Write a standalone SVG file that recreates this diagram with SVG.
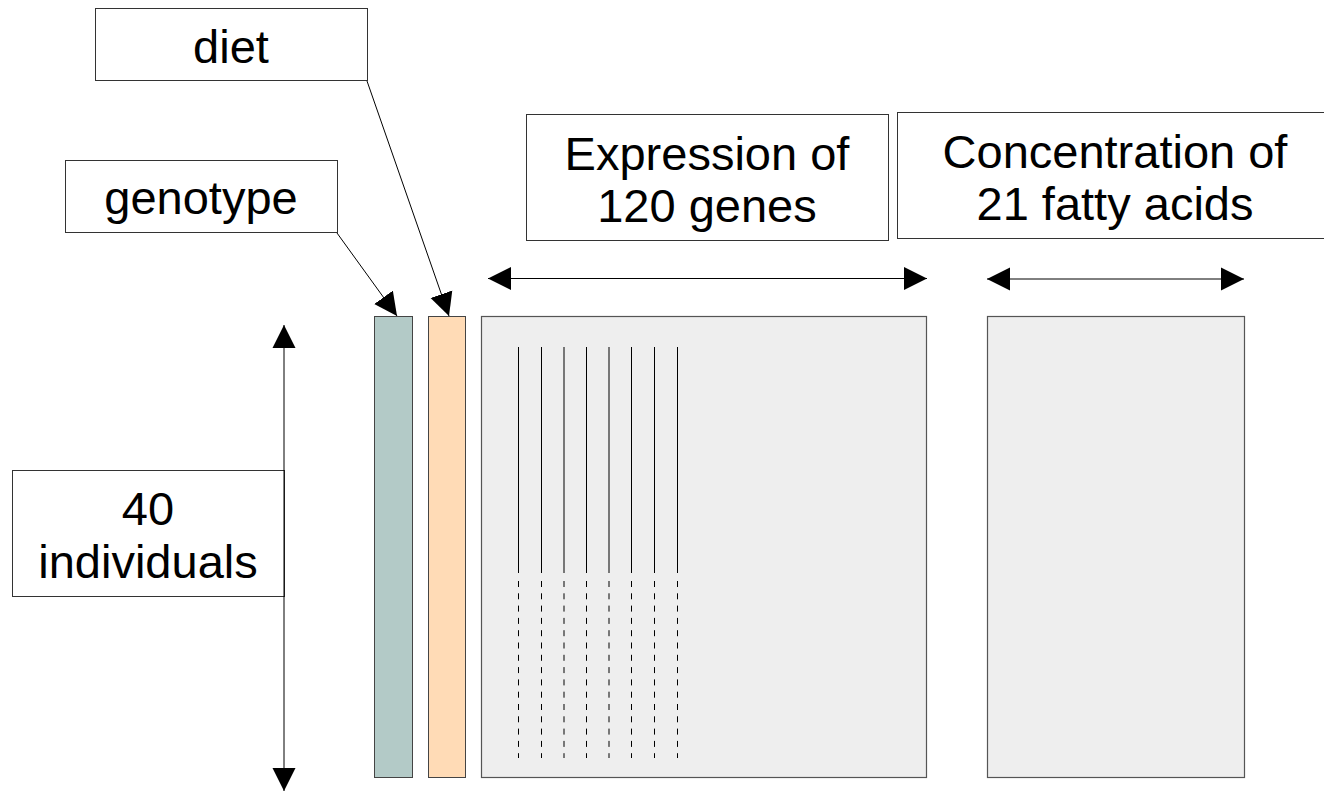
<svg xmlns="http://www.w3.org/2000/svg" width="1324" height="792" viewBox="0 0 1324 792">
<style>
  .lbl { fill: #ffffff; stroke: #333333; stroke-width: 1; }
  .txt { font-family: "Liberation Sans", Arial, sans-serif; font-size: 47px; fill: #000000; text-anchor: middle; }
  .conn { stroke: #000000; stroke-width: 1; fill: none; }
  .bar { stroke: #444444; stroke-width: 1; }
  .mat { fill: #eeeeee; stroke: #555555; stroke-width: 1.2; }
  .gene { stroke: #000000; stroke-width: 1; }
  .dash { stroke: #000000; stroke-width: 1; stroke-dasharray: 6 6.3; }
</style>
<defs>
  <marker id="ah" markerUnits="userSpaceOnUse" markerWidth="24" markerHeight="24" refX="23" refY="11.5" orient="auto-start-reverse" viewBox="0 0 24 23">
    <path d="M0,0 L23,11.5 L0,23 Z" fill="#000000"/>
  </marker>
</defs>
<rect width="1324" height="792" fill="#ffffff"/>

<g id="diet-label">
  <rect class="lbl" x="95.5" y="8.5" width="272" height="72"/>
  <text class="txt" x="231" y="63">diet</text>
</g>
<g id="genotype-label">
  <rect class="lbl" x="65.5" y="160.5" width="272" height="72"/>
  <text class="txt" x="201" y="214">genotype</text>
</g>
<g id="expression-label">
  <rect class="lbl" x="526.5" y="114.5" width="362" height="126"/>
  <text class="txt" x="707" y="170">Expression of</text>
  <text class="txt" x="707" y="222">120 genes</text>
</g>
<g id="concentration-label">
  <rect class="lbl" x="897.5" y="112.5" width="436" height="126"/>
  <text class="txt" x="1115" y="168">Concentration of</text>
  <text class="txt" x="1115" y="220">21 fatty acids</text>
</g>
<g id="individuals-label">
  <rect class="lbl" x="12.5" y="470.5" width="272" height="126"/>
  <text class="txt" x="148" y="525">40</text>
  <text class="txt" x="148" y="578">individuals</text>
</g>

<g id="genotype-bar">
  <rect class="bar" x="374.5" y="316.5" width="38" height="461" fill="#b3cac7"/>
</g>
<g id="diet-bar">
  <rect class="bar" x="428.5" y="316.5" width="37" height="461" fill="#ffdbb6"/>
</g>
<g id="expression-matrix">
  <rect class="mat" x="481.5" y="316.5" width="445" height="461"/>
  <g id="gene-lines">
    <line class="gene" x1="518.5" y1="347" x2="518.5" y2="573"/>
    <line class="gene" x1="541.5" y1="347" x2="541.5" y2="573"/>
    <line class="gene" x1="564" y1="347" x2="564" y2="573"/>
    <line class="gene" x1="586.5" y1="347" x2="586.5" y2="573"/>
    <line class="gene" x1="609" y1="347" x2="609" y2="573"/>
    <line class="gene" x1="631.5" y1="347" x2="631.5" y2="573"/>
    <line class="gene" x1="654.5" y1="347" x2="654.5" y2="573"/>
    <line class="gene" x1="677.5" y1="347" x2="677.5" y2="573"/>
    <line class="dash" x1="518.5" y1="581" x2="518.5" y2="758"/>
    <line class="dash" x1="541.5" y1="581" x2="541.5" y2="758"/>
    <line class="dash" x1="564" y1="581" x2="564" y2="758"/>
    <line class="dash" x1="586.5" y1="581" x2="586.5" y2="758"/>
    <line class="dash" x1="609" y1="581" x2="609" y2="758"/>
    <line class="dash" x1="631.5" y1="581" x2="631.5" y2="758"/>
    <line class="dash" x1="654.5" y1="581" x2="654.5" y2="758"/>
    <line class="dash" x1="677.5" y1="581" x2="677.5" y2="758"/>
  </g>
</g>
<g id="fatty-acid-matrix">
  <rect class="mat" x="987.5" y="316.5" width="257" height="461"/>
</g>

<g id="connectors">
  <line class="conn" x1="337" y1="233" x2="397" y2="316" marker-end="url(#ah)"/>
  <line class="conn" x1="367" y1="81" x2="449" y2="316" marker-end="url(#ah)"/>
  <line class="conn" x1="488" y1="278.5" x2="927" y2="278.5" marker-start="url(#ah)" marker-end="url(#ah)"/>
  <line class="conn" x1="987" y1="279" x2="1244" y2="279" marker-start="url(#ah)" marker-end="url(#ah)"/>
  <line class="conn" x1="284" y1="325" x2="284" y2="791" marker-start="url(#ah)" marker-end="url(#ah)"/>
</g>
</svg>
